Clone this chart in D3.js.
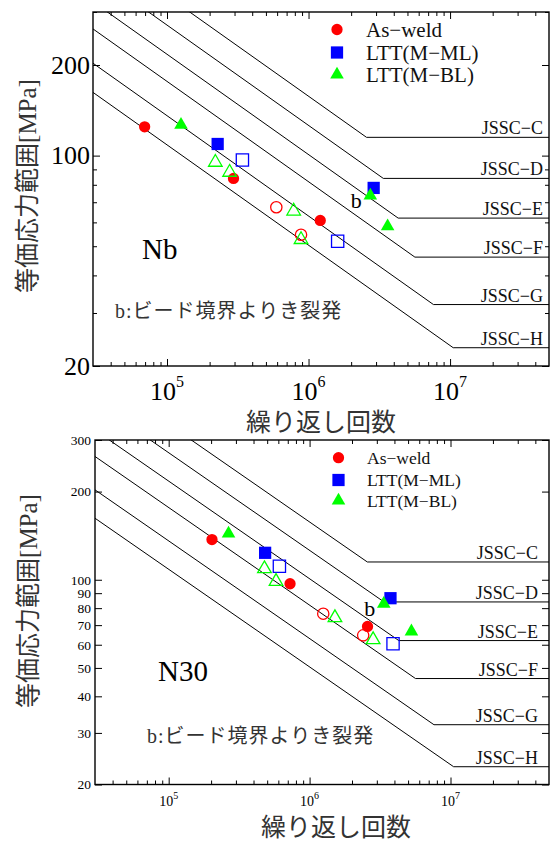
<!DOCTYPE html>
<html><head><meta charset="utf-8">
<script src="https://cdn.jsdelivr.net/npm/d3@7"></script>
<style>body{margin:0;background:#fff}svg{display:block}</style>
</head><body>
<script>
// ---------- data ----------
const jsscNames = ["JSSC−C","JSSC−D","JSSC−E","JSSC−F","JSSC−G","JSSC−H"];
const jsscStrength2M = [125,100,80,65,50,40];   // MPa at 2x10^6 cycles
const jsscCutoff = [115,84,62,46,32,23];        // constant amplitude fatigue limit
const xMajorTicks = [1e5,1e6,1e7];
const xMajorExponents = ["5","6","7"];
const xMinorTicks = [4e4,5e4,6e4,7e4,8e4,9e4,2e5,3e5,4e5,5e5,6e5,7e5,8e5,9e5,2e6,3e6,4e6,5e6,6e6,7e6,8e6,9e6,2e7,3e7,4e7];
const yTicksAll = [20,30,40,50,60,70,80,90,100,200,300];
const yTicksNbMajor = [20,100,200];
const yTicksNbMinor = [30,40,50,60,70,80,90,300];
const legendLabels = ["As−weld","LTT(M−ML)","LTT(M−BL)"];
const seriesColors = ["#ff0000","#0000ff","#00ff00"];
const seriesShapes = ["circle","square","triangle"];

// Nb panel
const nbAsWeldN = [69.5e3, 295e3, 1.21e6];      const nbAsWeldS = [124.6, 84.0, 60.9];
const nbAsWeldOpenN = [592e3, 885e3];           const nbAsWeldOpenS = [67.4, 54.6];
const nbMLN = [228e3, 2.885e6];                 const nbMLS = [109.3, 78.1];
const nbMLOpenN = [341e3, 1.606e6];             const nbMLOpenS = [96.7, 51.9];
const nbBLN = [125.6e3, 2.733e6, 3.62e6];       const nbBLS = [126.6, 73.7, 58.2];
const nbBLOpenN = [219.5e3, 277e3, 785e3, 885e3]; const nbBLOpenS = [95.0, 88.0, 65.4, 52.6];
const nbBeadN = 2.733e6, nbBeadS = 73.7;

// N30 panel
const n30AsWeldN = [202.9e3, 726.5e3, 2.577e6]; const n30AsWeldS = [137.2, 96.9, 69.3];
const n30AsWeldOpenN = [1.25e6, 2.4e6];         const n30AsWeldOpenS = [76.6, 64.6];
const n30MLN = [483.5e3, 3.75e6];               const n30MLS = [123.6, 86.5];
const n30MLOpenN = [610.5e3, 3.91e6];           const n30MLOpenS = [111.2, 60.5];
const n30BLN = [265.9e3, 3.36e6, 5.28e6];       const n30BLS = [143.8, 82.8, 66.6];
const n30BLOpenN = [478e3, 578e3, 1.513e6, 2.824e6]; const n30BLOpenS = [109.0, 98.7, 74.2, 62.4];
const n30BeadN = 3.36e6, n30BeadS = 82.8;

const xLabelText = "繰り返し回数";
const yLabelText = "等価応力範囲[MPa]";
const noteText = "b:ビード境界よりき裂発";

// ---------- drawing ----------
const W = 556, H = 842;
const svg = d3.select("body").append("svg").attr("width", W).attr("height", H);
const SERIF = "'Liberation Serif','Times New Roman',serif";
const JP = "'Liberation Serif','Noto Sans CJK JP',serif";

function symbolPath(shape, size) {
  const t = shape === "circle" ? d3.symbolCircle : shape === "square" ? d3.symbolSquare : d3.symbolTriangle;
  const a = shape === "circle" ? 100 : shape === "square" ? 150 : 80;
  return d3.symbol().type(t).size(a * (size || 1))();
}

function panel(p, idx) {
  const g = svg.append("g");
  const x = d3.scaleLog().domain([3e4, 5e7]).range([p.left, p.right]);
  const y = d3.scaleLog().domain([20, 300]).range([p.bottom, p.top]);
  const cid = "clip" + idx;
  svg.append("clipPath").attr("id", cid).append("rect")
    .attr("x", p.left).attr("y", p.top).attr("width", p.right - p.left).attr("height", p.bottom - p.top);

  // JSSC design curves
  const line = d3.line().x(d => x(d[0])).y(d => y(d[1]));
  const curves = g.append("g").attr("clip-path", `url(#${cid})`);
  jsscNames.forEach((nm, i) => {
    const s = jsscStrength2M[i], c = jsscCutoff[i];
    const n0 = 1e4, s0 = s * Math.cbrt(2e6 / n0);
    const nk = 2e6 * Math.pow(s / c, 3);
    curves.append("path").attr("d", line([[n0, s0], [nk, c], [6e7, c]]))
      .attr("fill", "none").attr("stroke", "#000").attr("stroke-width", 1);
    g.append("text").attr("x", p.jsscRight).attr("y", y(c) - 3)
      .attr("text-anchor", "end").attr("font-family", SERIF).attr("font-size", p.jsscFs)
      .attr("fill", "#111").text(nm);
  });

  // axes (inward ticks)
  const ax = (gen, tx, ty) => g.append("g").attr("transform", `translate(${tx},${ty})`).call(gen)
    .call(s => s.select(".domain").remove());
  ax(d3.axisBottom(x).tickValues(xMajorTicks).tickSize(-7).tickFormat(""), 0, p.bottom);
  ax(d3.axisBottom(x).tickValues(xMinorTicks).tickSize(-4).tickFormat(""), 0, p.bottom);
  ax(d3.axisTop(x).tickValues(xMajorTicks).tickSize(-7).tickFormat(""), 0, p.top);
  ax(d3.axisTop(x).tickValues(xMinorTicks).tickSize(-4).tickFormat(""), 0, p.top);
  ax(d3.axisRight(y).tickValues(p.yMajor).tickSize(-7).tickFormat(""), p.right, 0);
  ax(d3.axisRight(y).tickValues(p.yMinor).tickSize(-4).tickFormat(""), p.right, 0);
  const yl = ax(d3.axisLeft(y).tickValues(p.yMajor).tickSize(-7).tickPadding(p.yPad).tickFormat(d => p.yLabeled.includes(d) ? d3.format("d")(d) : ""), p.left, 0);
  yl.selectAll("text").attr("font-family", SERIF).attr("font-size", p.yFs).attr("fill", "#000");
  ax(d3.axisLeft(y).tickValues(p.yMinor).tickSize(-4).tickFormat(""), p.left, 0);
  g.selectAll(".tick line").attr("stroke", "#000").attr("stroke-width", 1);

  // x tick labels 10^n
  xMajorTicks.forEach((v, i) => {
    const t = g.append("text").attr("x", x(v)).attr("y", p.xLabY).attr("text-anchor", "middle")
      .attr("font-family", SERIF).attr("font-size", p.xFs).attr("fill", "#000");
    t.append("tspan").text("10");
    t.append("tspan").attr("font-size", p.xSupFs).attr("dy", -p.xSupRise).text(xMajorExponents[i]);
  });

  // frame
  g.append("rect").attr("x", p.left).attr("y", p.top).attr("width", p.right - p.left).attr("height", p.bottom - p.top)
    .attr("fill", "none").attr("stroke", "#000").attr("stroke-width", 1.4);

  // axis titles
  g.append("text").attr("x", p.xTitle[0]).attr("y", p.xTitle[1]).attr("text-anchor", "middle")
    .attr("dominant-baseline", "central").attr("font-family", JP).attr("font-size", p.titleFs)
    .attr("fill", "#333").text(xLabelText);
  g.append("text").attr("transform", `translate(${p.yTitle[0]},${p.yTitle[1]}) rotate(-90)`)
    .attr("text-anchor", "middle").attr("dominant-baseline", "central")
    .attr("font-family", JP).attr("font-size", p.titleFs).attr("fill", "#333").text(yLabelText);

  // panel name and note
  g.append("text").attr("x", p.name[0]).attr("y", p.name[1]).attr("font-family", SERIF)
    .attr("font-size", 29).attr("fill", "#000").text(p.nameText);
  g.append("text").attr("x", p.note[0]).attr("y", p.note[1]).attr("font-family", JP)
    .attr("font-size", 20).attr("letter-spacing", 1).attr("fill", "#333").text(noteText);

  // data
  const pts = g.append("g");
  p.series.forEach(s => {
    s.n.forEach((n, k) => {
      pts.append("path").attr("d", symbolPath(seriesShapes[s.k]))
        .attr("transform", `translate(${x(n)},${y(s.s[k])})`)
        .attr("fill", s.open ? "none" : seriesColors[s.k])
        .attr("stroke", s.open ? seriesColors[s.k] : "none")
        .attr("stroke-width", 1.3);
    });
  });
  // bead label "b"
  g.append("text").attr("x", x(p.bead[0]) - 14).attr("y", y(p.bead[1]) + 12).attr("text-anchor", "middle")
    .attr("font-family", SERIF).attr("font-size", 22).attr("fill", "#000").text("b");

  // legend
  legendLabels.forEach((lb, i) => {
    g.append("path").attr("d", symbolPath(seriesShapes[i]))
      .attr("transform", `translate(${p.legX},${p.legY[i]})`).attr("fill", seriesColors[i]);
    g.append("text").attr("x", p.legTX).attr("y", p.legY[i]).attr("dy", "0.35em")
      .attr("font-family", SERIF).attr("font-size", p.legFs).attr("fill", "#111").text(lb);
  });
}

panel({
  left: 93, right: 549, top: 12, bottom: 366,
  yMajor: yTicksNbMajor, yMinor: yTicksNbMinor, yLabeled: yTicksNbMajor, yFs: 26, yPad: 3,
  xFs: 26, xSupFs: 16, xSupRise: 13, xLabY: 400,
  jsscRight: 543, jsscFs: 18,
  xTitle: [321, 422], yTitle: [27, 186], titleFs: 25,
  name: [142, 259], nameText: "Nb", note: [115, 318],
  legX: 337, legY: [29.5, 52.5, 74.5], legTX: 366, legFs: 21,
  bead: [nbBeadN, nbBeadS],
  series: [
    {k: 0, open: false, n: nbAsWeldN, s: nbAsWeldS},
    {k: 0, open: true, n: nbAsWeldOpenN, s: nbAsWeldOpenS},
    {k: 1, open: false, n: nbMLN, s: nbMLS},
    {k: 1, open: true, n: nbMLOpenN, s: nbMLOpenS},
    {k: 2, open: false, n: nbBLN, s: nbBLS},
    {k: 2, open: true, n: nbBLOpenN, s: nbBLOpenS}
  ]
}, 0);

panel({
  left: 95, right: 549, top: 440, bottom: 784.5,
  yMajor: yTicksAll, yMinor: [], yLabeled: yTicksAll, yFs: 13.5, yPad: 4,
  xFs: 14, xSupFs: 10, xSupRise: 7, xLabY: 806,
  jsscRight: 538, jsscFs: 18,
  xTitle: [336, 827], yTitle: [28, 601], titleFs: 25,
  name: [158, 681], nameText: "N30", note: [147, 743],
  legX: 338.5, legY: [457.7, 480, 500.7], legTX: 367, legFs: 17.5,
  bead: [n30BeadN, n30BeadS],
  series: [
    {k: 0, open: false, n: n30AsWeldN, s: n30AsWeldS},
    {k: 0, open: true, n: n30AsWeldOpenN, s: n30AsWeldOpenS},
    {k: 1, open: false, n: n30MLN, s: n30MLS},
    {k: 1, open: true, n: n30MLOpenN, s: n30MLOpenS},
    {k: 2, open: false, n: n30BLN, s: n30BLS},
    {k: 2, open: true, n: n30BLOpenN, s: n30BLOpenS}
  ]
}, 1);
</script>
</body></html>
